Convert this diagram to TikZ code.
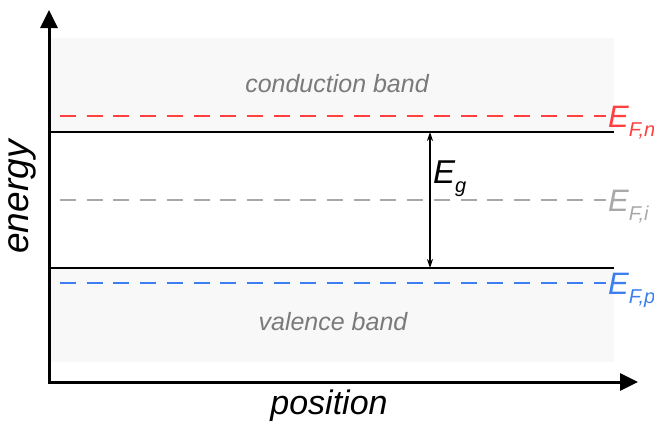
\documentclass[tikz,border=0pt]{standalone}
\usepackage{fontspec}
\setmainfont{Liberation Sans}
\usepackage{xcolor}
\definecolor{bandfill}{HTML}{F8F8F8}
\definecolor{bandtext}{HTML}{7A7A7A}
\definecolor{accentn}{HTML}{FF4040}
\definecolor{accenti}{HTML}{A8A8A8}
\definecolor{accentp}{HTML}{3D7EF0}
\usepackage{tikz}
\usetikzlibrary{arrows.meta}

% level label with lowered subscript
\newcommand{\levlabel}[2]{#1\raisebox{-0.3em}{\fontsize{20}{20}\selectfont #2}}

\begin{document}
\begin{tikzpicture}[x=1pt, y=-1pt,
    axis/.style={line width=3pt, {Triangle[length=18pt,width=17pt]}-{Triangle[length=18pt,width=17pt]}},
    edge/.style={line width=2pt},
    fermi/.style={line width=2.2pt, dash pattern=on 16pt off 10.7pt},
    gap/.style={line width=1.2pt, {Stealth[length=9pt,width=6pt]}-{Stealth[length=9pt,width=6pt]}},
    lab/.style={font=\fontsize{31}{31}\selectfont\itshape, anchor=base west, inner sep=0pt},
    band/.style={font=\fontsize{25}{25}\selectfont\itshape, text=bandtext}]
  \useasboundingbox (0,0) rectangle (654,424);
  % bands
  \fill[bandfill] (50,38) rectangle (614,132);
  \fill[bandfill] (50,268) rectangle (614,362);
  \node[band] (cb) at (337,84) {conduction band};
  \node[band] (vb) at (333,322) {valence band};
  % band edges
  \coordinate (cl) at (50,132);
  \coordinate (cr) at (614,132);
  \coordinate (vl) at (50,268);
  \coordinate (vr) at (614,268);
  \draw[edge] (cl) -- (cr);
  \draw[edge] (vl) -- (vr);
  % fermi levels
  \node[lab, text=accentn] (efn) at (608,127) {\levlabel{E}{F,n}};
  \node[lab, text=accenti] (efi) at (608,211) {\levlabel{E}{F,i}};
  \node[lab, text=accentp] (efp) at (608,294) {\levlabel{E}{F,p}};
  \draw[fermi, accentn] (60,116) -- (606,116);
  \draw[fermi, accenti] (60,200) -- (606,200);
  \draw[fermi, accentp] (60,283) -- (606,283);
  % gap
  \coordinate (gt) at (430,132);
  \coordinate (gb) at (430,268);
  \draw[gap] (gt) -- (gb);
  \node[lab, font=\fontsize{33}{33}\selectfont\itshape] (eg) at (433,183) {\levlabel{E}{g}};
  % axes
  \coordinate (o) at (49,382);
  \coordinate (ytip) at (49,10);
  \coordinate (xtip) at (638,382);
  \draw[axis] (ytip) -- (o) -- (xtip);
  \node[font=\fontsize{37}{37}\selectfont\itshape, rotate=90] (ylab) at (22,197) {energy};
  \node[font=\fontsize{34}{34}\selectfont\itshape] (xlab) at (329,406) {position};
\end{tikzpicture}
\end{document}
